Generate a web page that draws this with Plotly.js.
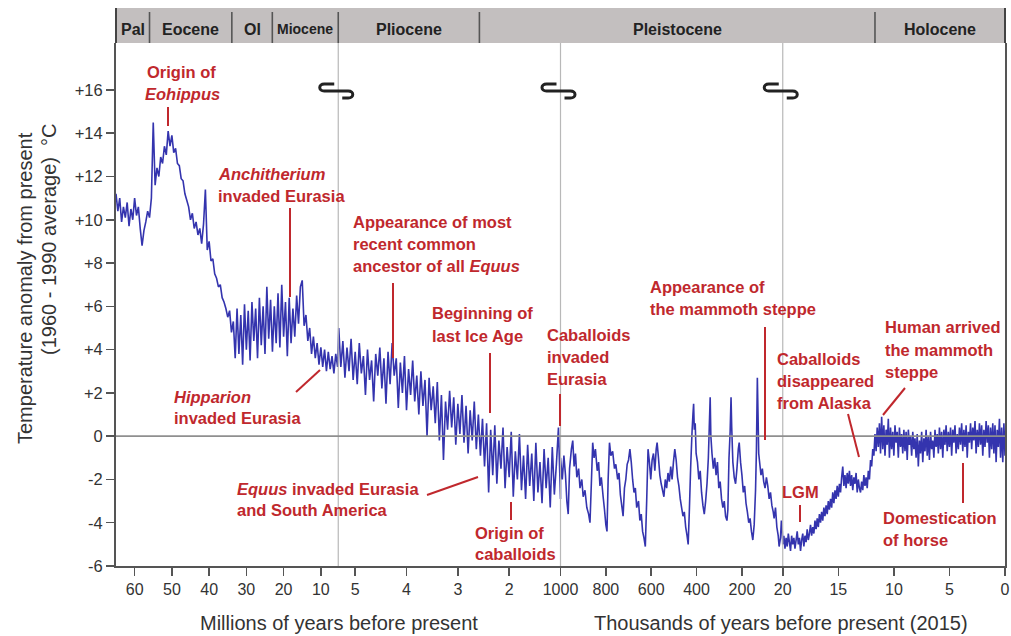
<!DOCTYPE html>
<html><head><meta charset="utf-8">
<script src="https://cdn.plot.ly/plotly-3.0.1.min.js"></script>
<style>html,body{margin:0;padding:0;background:#fff}#chart{width:1011px;height:636px}</style>
</head><body><div id="chart"></div>
<script>
// ---------- DATA ----------
// Segment A: millions of years (65 -> 5.33 Ma)
const ageA_My = [65,64.5,64,63.5,63,62.5,62,61.5,61,60.5,
60,59.5,59,58.5,58,57.5,57,56.5,56,55.5,
55,54.5,54,53.5,53,52.5,52,51.5,51,50.5,
50,49.5,49,48.5,48,47.5,47,46.5,46,45.5,
45,44.5,44,43.5,43,42.5,42,41.5,41,40.5,
40,39.5,39,38.5,38,37.5,37,36.5,36,35.5,
35,34.5,34,33.5,33,32.5,32,31.5,31,30.5,
30,29.5,29,28.5,28,27.5,27,26.5,26,25.5,
25,24.5,24,23.5,23,22.5,22,21.5,21,20.5,
20,19.5,19,18.5,18,17.5,17,16.5,16,15.5,
15,14.5,14,13.5,13,12.5,12,11.5,11,10.5,
10,9.5,9,8.5,8,7.5,7,6.5,6,5.5];
const tempA = [11.2,10.4,11.0,9.9,10.6,10.1,10.8,9.7,10.5,10.0,
11.0,10.2,10.6,9.6,8.8,9.5,9.9,10.4,10.1,11.0,
14.5,11.6,12.4,12.0,12.9,12.6,13.4,13.0,14.1,13.4,
13.9,13.1,13.3,12.6,12.5,11.9,11.8,11.2,10.9,10.6,
10.0,10.3,9.6,9.9,9.3,9.6,8.9,9.8,11.4,8.6,
9.0,8.1,8.2,7.5,7.3,6.9,7.0,6.4,6.2,5.9,
5.5,5.8,4.8,5.3,3.6,5.9,3.8,5.6,3.3,6.1,
4.0,5.8,3.5,6.2,4.4,5.9,3.6,6.4,4.2,6.0,
3.8,6.9,4.5,6.3,3.9,6.0,4.3,6.6,4.1,7.0,
4.6,6.2,3.7,6.4,4.3,5.9,4.6,6.5,5.2,6.9,
7.2,5.1,5.6,4.4,5.0,3.8,4.6,3.6,4.3,3.3,
4.1,3.2,4.0,3.0,3.9,3.1,3.7,2.9,3.8,3.2];

// Segment B: millions of years (5.33 -> 1.0 Ma)
const ageB_My = [5.32,5.28,5.24,5.20,5.16,5.12,5.08,5.04,5.00,4.96,
4.92,4.88,4.84,4.80,4.76,4.72,4.68,4.64,4.60,4.56,
4.52,4.48,4.44,4.40,4.36,4.32,4.28,4.24,4.20,4.16,
4.12,4.08,4.04,4.00,3.96,3.92,3.88,3.84,3.80,3.76,
3.72,3.68,3.64,3.60,3.56,3.52,3.48,3.44,3.40,3.36,
3.32,3.28,3.24,3.20,3.16,3.12,3.08,3.04,3.00,2.96,
2.92,2.88,2.84,2.80,2.76,2.72,2.68,2.64,2.60,2.56,
2.52,2.48,2.44,2.40,2.36,2.32,2.28,2.24,2.20,2.16,
2.12,2.08,2.04,2.00,1.96,1.92,1.88,1.84,1.80,1.76,
1.72,1.68,1.64,1.60,1.56,1.52,1.48,1.44,1.40,1.36,
1.32,1.28,1.24,1.20,1.16,1.12,1.08,1.04,1.00];
const tempB = [5.0,3.2,4.4,2.7,4.1,3.0,4.5,2.6,3.9,2.4,
4.3,2.9,3.7,1.9,4.0,2.6,3.5,1.6,3.8,2.8,
4.1,2.2,3.6,1.5,3.9,2.4,4.3,2.8,3.6,1.3,
3.4,2.0,3.7,1.2,3.1,1.9,3.5,1.6,2.8,1.0,
3.0,1.4,2.6,0.0,2.7,1.2,2.3,0.6,2.5,-0.2,
1.9,-1.1,1.6,0.3,2.1,0.4,1.8,-0.4,1.5,0.1,
1.9,-0.3,1.4,-0.8,1.2,-0.2,1.6,-0.6,1.0,-0.9,
0.8,-1.4,0.6,-2.6,0.3,-1.8,0.5,-2.2,-0.2,-1.5,
0.4,-2.4,-0.5,-1.9,0.2,-2.8,-0.7,-2.0,0.1,-2.5,
-0.9,-2.9,-0.4,-2.3,-0.8,-3.0,-0.3,-2.6,-1.2,-3.1,
-0.6,-2.4,-1.0,-3.3,-0.5,-2.7,-1.3,0.4,-2.9];

// Segment C: thousands of years (1000 -> 20 ka)
const ageC_ky = [1000,992,985,978,972,966,960,952,946,940,
934,928,920,914,906,900,892,884,876,870,
864,858,852,846,838,832,826,820,812,806,
800,795,790,784,778,770,762,756,748,742,
736,730,724,718,712,706,700,694,688,682,
676,670,664,656,650,644,638,632,626,620,
614,608,602,596,590,584,578,574,568,562,
556,550,544,538,532,526,520,514,508,502,
496,490,484,478,472,466,460,454,448,442,
437,432,426,420,416,413,410,406,402,396,
390,384,378,372,366,360,354,348,344,340,
337,332,326,320,314,308,302,296,290,284,
278,272,266,262,257,252,248,245,240,234,
228,222,216,212,206,200,194,188,182,176,
170,164,158,152,146,140,136,132,129,126,
120,116,110,104,98,92,86,80,74,68,
62,58,52,46,40,36,30,26,22];
const tempC = [-1.0,-2.0,-0.9,-1.8,-3.0,-3.6,-1.5,-0.6,-0.2,-1.4,
-0.8,-1.9,-1.5,-2.4,-2.0,-2.8,-2.5,-3.3,-3.6,-4.0,
-2.2,-0.3,-1.0,-0.6,-1.6,-1.2,-2.3,-1.9,-2.8,-3.4,
-4.1,-4.4,-2.0,-0.3,-0.9,-0.7,-1.5,-1.3,-2.0,-1.7,
-2.7,-3.2,-3.7,-2.4,-2.0,-1.3,-1.1,-0.6,-1.2,-2.0,
-2.6,-2.4,-3.3,-3.0,-3.9,-3.6,-4.4,-4.7,-5.1,-3.0,
-0.6,-1.2,-2.0,-1.1,-0.8,-1.6,-0.6,-0.3,-1.0,-1.8,
-2.2,-2.5,-2.8,-2.0,-2.4,-1.7,-2.1,-1.4,-2.0,-1.2,
-0.6,-1.1,-1.9,-2.3,-2.9,-3.3,-3.7,-3.5,-4.2,-4.6,
-5.0,-3.5,-1.4,0.2,1.0,1.5,0.3,0.6,-0.8,-1.2,
-2.0,-1.6,-2.6,-3.2,-3.6,-3.0,-2.2,-1.0,0.4,1.8,
0.0,-0.8,-1.5,-1.0,-1.8,-1.2,-2.4,-2.1,-2.9,-3.3,
-3.0,-3.7,-3.9,-3.4,-1.0,0.2,1.8,0.4,-1.2,-1.9,
-2.2,-1.5,-0.6,-0.3,-1.2,-1.8,-2.6,-2.3,-3.1,-3.5,
-4.0,-3.8,-4.4,-4.8,-4.1,-2.5,-0.6,2.7,1.0,-0.8,
-1.4,-1.8,-1.5,-2.1,-2.4,-1.9,-2.3,-2.9,-2.6,-3.2,
-3.5,-3.8,-3.3,-4.2,-4.6,-5.1,-4.7,-3.9,-4.4];

// Segment D: thousands of years (20 -> 0 ka)
const ageD_ky = [20,19.9,19.8,19.7,19.6,19.5,19.4,19.3,19.2,19.1,
19,18.9,18.8,18.7,18.6,18.5,18.4,18.3,18.2,18.1,
18,17.9,17.8,17.7,17.6,17.5,17.4,17.3,17.2,17.1,
17,16.9,16.8,16.7,16.6,16.5,16.4,16.3,16.2,16.1,
16,15.9,15.8,15.7,15.6,15.5,15.4,15.3,15.2,15.1,
15,14.9,14.8,14.7,14.6,14.5,14.4,14.3,14.2,14.1,
14,13.9,13.8,13.7,13.6,13.5,13.4,13.3,13.2,13.1,
13,12.9,12.8,12.7,12.6,12.5,12.4,12.3,12.2,12.1,
12,11.9,11.8,11.7,11.6,11.5,11.4,11.3,11.2,11.1,
11,10.9,10.8,10.7,10.6,10.5,10.4,10.3,10.2,10.1,
10,9.9,9.8,9.7,9.6,9.5,9.4,9.3,9.2,9.1,
9,8.9,8.8,8.7,8.6,8.5,8.4,8.3,8.2,8.1,
8,7.9,7.8,7.7,7.6,7.5,7.4,7.3,7.2,7.1,
7,6.9,6.8,6.7,6.6,6.5,6.4,6.3,6.2,6.1,
6,5.9,5.8,5.7,5.6,5.5,5.4,5.3,5.2,5.1,
5,4.9,4.8,4.7,4.6,4.5,4.4,4.3,4.2,4.1,
4,3.9,3.8,3.7,3.6,3.5,3.4,3.3,3.2,3.1,
3,2.9,2.8,2.7,2.6,2.5,2.4,2.3,2.2,2.1,
2,1.9,1.8,1.7,1.6,1.5,1.4,1.3,1.2,1.1,
1,0.9,0.8,0.7,0.6,0.5,0.4,0.3,0.2,0.1,
0];
const tempD = [-5.0,-4.6,-5.2,-4.7,-5.1,-4.5,-4.9,-5.3,-4.6,-5.0,
-4.7,-5.2,-4.8,-4.4,-5.0,-4.7,-5.3,-4.8,-4.5,-5.1,
-4.6,-4.9,-4.3,-4.8,-4.5,-4.1,-4.6,-4.2,-4.5,-3.9,
-4.3,-3.8,-4.2,-3.6,-4.0,-3.5,-3.9,-3.3,-3.7,-3.2,
-3.6,-3.0,-3.4,-2.9,-3.3,-2.6,-3.1,-2.5,-2.9,-2.3,
-2.8,-2.2,-2.6,-1.9,-1.4,-2.3,-1.8,-2.4,-1.7,-2.2,
-1.6,-2.3,-1.8,-2.5,-1.9,-2.2,-1.7,-2.6,-2.0,-2.4,
-2.6,-2.1,-2.5,-1.8,-2.3,-1.9,-2.4,-1.6,-2.0,-1.1,
-1.4,-0.6,-0.9,0.1,-0.7,0.4,-0.5,0.6,-0.8,0.9,
-0.6,0.5,-0.9,0.3,-0.4,0.8,-1.0,0.4,-0.6,0.2,
-0.9,0.5,-0.3,0.2,-1.0,0.4,-0.5,0.1,-0.8,0.3,
-0.7,0.2,-1.1,0.3,-0.4,0.0,-0.9,0.2,-0.6,-0.1,
-1.0,0.1,-1.4,-0.2,-0.8,0.2,-1.2,-0.1,-0.7,0.3,
-0.9,0.0,-1.1,0.2,-0.6,-0.2,-1.0,0.3,-0.5,0.1,
-0.8,0.4,-0.6,0.2,-1.0,0.3,-0.4,0.5,-0.7,0.2,
-0.5,0.4,-0.9,0.3,-0.3,0.5,-0.8,0.1,-0.6,0.4,
-0.4,0.6,-0.7,0.3,-0.5,0.5,-1.0,0.2,-0.3,0.6,
-0.6,0.4,-0.2,0.7,-0.8,0.3,-0.5,0.6,-0.4,0.5,
-0.9,0.3,-0.5,0.7,-0.3,0.5,-1.0,0.4,-0.6,0.6,
-0.8,0.5,-1.2,0.3,-0.5,0.8,-1.0,0.4,-1.2,0.6,
-0.9];

// Tick labels
const ticksA_My = [60,50,40,30,20,10];
const ticksB_My = [5,4,3,2];
const ticksC_ky = [1000,800,600,400,200,20];
const ticksD_ky = [15,10,5,0];
const yTicks = [-6,-4,-2,0,2,4,6,8,10,12,14,16];

// Epochs (header)
const epochNames = ['Pal','Eocene','Ol','Miocene','Pliocene','Pleistocene','Holocene'];
const epochBounds = [['A',65],['A',56],['A',33.9],['A',23.03],['A',5.33],['B',2.58],['D',11.7],['D',0]];

// Breaks in the time axis
const breakAt = [1,2,3];

// ---------- SCALE (broken time axis) ----------
const SEG = {
  A:{from:65, to:5.33, u0:0},
  B:{from:5.33, to:1.0, u0:1},
  C:{from:1000, to:20, u0:2},
  D:{from:20, to:0, u0:3}
};
function U(seg, age){ const s = SEG[seg]; return s.u0 + (s.from - age)/(s.from - s.to); }

const X = [].concat(ageA_My.map(a=>U('A',a)), ageB_My.map(a=>U('B',a)), ageC_ky.map(a=>U('C',a)), ageD_ky.map(a=>U('D',a)));
const Y = [].concat(tempA, tempB, tempC, tempD);

const tickvals = [].concat(ticksA_My.map(t=>U('A',t)), ticksB_My.map(t=>U('B',t)), ticksC_ky.map(t=>U('C',t)), ticksD_ky.map(t=>U('D',t)));
const ticktext = [].concat(ticksA_My, ticksB_My, ticksC_ky, ticksD_ky).map(String);

// ---------- LAYOUT HELPERS (pixel -> paper) ----------
const PL=116, PR=1005, PT=43, PB=566;
const px = x => (x-PL)/(PR-PL);
const py = y => (PB-y)/(PB-PT);
const FONT = '"Liberation Sans", Arial, Helvetica, sans-serif';
const RED = '#c0282d';

const shapes = [];
const annotations = [];

// header bar
shapes.push({type:'rect', xref:'paper', yref:'paper', x0:0, x1:1, y0:py(43), y1:py(8), fillcolor:'#c3bfbf', line:{width:0}, layer:'below'});
shapes.push({type:'line', xref:'paper', yref:'paper', x0:0, x1:0, y0:py(43), y1:py(8), line:{color:'#444', width:2}});
shapes.push({type:'line', xref:'paper', yref:'paper', x0:1, x1:1, y0:py(43), y1:py(8), line:{color:'#444', width:2}});
const epochU = epochBounds.map(b=>U(b[0], b[1]));
for (let i=1;i<epochU.length-1;i++){
  shapes.push({type:'line', xref:'x', yref:'paper', x0:epochU[i], x1:epochU[i], y0:py(43), y1:py(12), line:{color:'#555', width:1.6}});
}
epochNames.forEach((n,i)=>{
  annotations.push({text:'<b>'+n+'</b>', xref:'x', yref:'paper', x:(epochU[i]+epochU[i+1])/2, y:py(29), showarrow:false,
    xanchor:'center', yanchor:'middle', font:{family:FONT, size:(n==='Miocene'?14:16), color:'#222'}});
});

// break lines and symbols
breakAt.forEach(b=>{
  shapes.push({type:'line', xref:'x', yref:'paper', x0:b, x1:b, y0:0, y1:1, line:{color:'#b8b8b8', width:1.2}, layer:'above'});
});
// zero line
shapes.push({type:'line', xref:'paper', yref:'y', x0:0, x1:1, y0:0, y1:0, line:{color:'#8f8f8f', width:1.6}, layer:'above'});

const plotW = PR-PL;
breakAt.forEach(b=>{
  const cx = PL + b*plotW/4 - 2, cy = 91;
  const P = (dx,dy)=> px(cx+dx).toFixed(5)+','+py(cy+dy).toFixed(5);
  const path = 'M'+P(-2,-7)+' L'+P(-12,-7)+' C'+P(-18,-7)+' '+P(-18,0)+' '+P(-12,0)+' L'+P(12,0)+' C'+P(18,0)+' '+P(18,7)+' '+P(12,7)+' L'+P(6,7);
  shapes.push({type:'path', xref:'paper', yref:'paper', path:path, line:{color:'#222', width:3}});
});

// red annotation labels: [text, x, y, anchor]
const labels = [
 ['Origin of',181,72,'center'],
 ['<i>Eohippus</i>',182,94,'center'],
 ['<i>Anchitherium</i>',216,174,'left'],
 ['invaded Eurasia',216,196,'left'],
 ['Appearance of most',351,222,'left'],
 ['recent common',351,244,'left'],
 ['ancestor of all <i>Equus</i>',351,266,'left'],
 ['Beginning of',430,313,'left'],
 ['last Ice Age',430,336,'left'],
 ['Caballoids',545,335,'left'],
 ['invaded',545,357,'left'],
 ['Eurasia',545,379,'left'],
 ['Appearance of',648,287,'left'],
 ['the mammoth steppe',648,309,'left'],
 ['Caballoids',775,359,'left'],
 ['disappeared',775,381,'left'],
 ['from Alaska',775,403,'left'],
 ['Human arrived',883,327,'left'],
 ['the mammoth',883,350,'left'],
 ['steppe',883,372,'left'],
 ['LGM',800,492,'center'],
 ['Domestication',881,518,'left'],
 ['of horse',881,540,'left'],
 ['<i>Hipparion</i>',172,397,'left'],
 ['invaded Eurasia',172,418,'left'],
 ['<i>Equus</i> invaded Eurasia',235,489,'left'],
 ['and South America',235,510,'left'],
 ['Origin of',473,533,'left'],
 ['caballoids',473,554,'left']
];
labels.forEach(l=>{
  annotations.push({text:'<b>'+l[0]+'</b>', xref:'paper', yref:'paper', x:px(l[1]), y:py(l[2]), showarrow:false,
    xanchor:l[3], yanchor:'middle', font:{family:FONT, size:16.5, color:RED}});
});
const leaders = [[168,107,168,126],[290,208,290,297],[393,283,393,358],[490,353,490,413],[560,394,560,426],
 [765,327,765,440],[848,414,859,457],[905,388,883,415],[800,505,800,522],[963,463,963,503],
 [296,392,320,370],[427,495,478,477],[511,502,511,520]];
leaders.forEach(s=>{
  shapes.push({type:'line', xref:'paper', yref:'paper', x0:px(s[0]), y0:py(s[1]), x1:px(s[2]), y1:py(s[3]), line:{color:RED, width:2}});
});

// axis titles
annotations.push({text:'Millions of years before present', xref:'paper', yref:'paper', x:px(339), y:py(623), showarrow:false, xanchor:'center', yanchor:'middle', font:{family:FONT, size:20, color:'#333'}});
annotations.push({text:'Thousands of years before present (2015)', xref:'paper', yref:'paper', x:px(781), y:py(623), showarrow:false, xanchor:'center', yanchor:'middle', font:{family:FONT, size:20, color:'#333'}});
annotations.push({text:'Temperature anomaly from present', xref:'paper', yref:'paper', x:px(25), y:py(288), showarrow:false, textangle:-90, xanchor:'center', yanchor:'middle', font:{family:FONT, size:20, color:'#333'}});
annotations.push({text:'(1960 - 1990 average)  °C', xref:'paper', yref:'paper', x:px(49), y:py(240), showarrow:false, textangle:-90, xanchor:'center', yanchor:'middle', font:{family:FONT, size:20, color:'#333'}});

const trace = {x:X, y:Y, type:'scatter', mode:'lines', line:{color:'#3434ae', width:1.6, simplify:false}, hoverinfo:'skip'};

const layout = {
  width:1011, height:636,
  margin:{l:PL, r:1011-PR, t:PT, b:636-PB, pad:0},
  paper_bgcolor:'#fff', plot_bgcolor:'#fff',
  showlegend:false,
  font:{family:FONT, color:'#333'},
  xaxis:{range:[0,4], tickmode:'array', tickvals:tickvals, ticktext:ticktext, ticks:'outside', ticklen:8, tickwidth:1.5, tickcolor:'#555',
    showline:true, linecolor:'#555', linewidth:2, showgrid:false, zeroline:false, tickfont:{family:FONT, size:16, color:'#333'}, fixedrange:true},
  yaxis:{range:[-6,18.17], tickmode:'array', tickvals:yTicks, ticktext:yTicks.map(v=>v>0?'+'+v:String(v)), ticks:'outside', ticklen:8, tickwidth:1.5, tickcolor:'#555',
    showline:true, mirror:true, linecolor:'#555', linewidth:2, showgrid:false, zeroline:false, tickfont:{family:FONT, size:16.5, color:'#333'}, fixedrange:true},
  shapes:shapes,
  annotations:annotations
};
Plotly.newPlot('chart', [trace], layout, {staticPlot:true, displayModeBar:false});
</script>
</body></html>
